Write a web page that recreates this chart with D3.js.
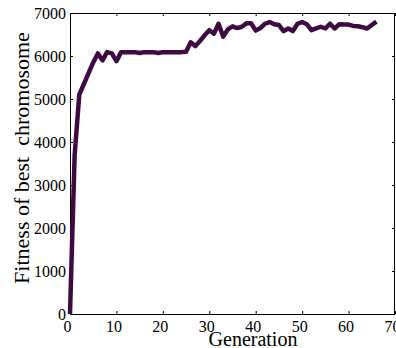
<!DOCTYPE html>
<html>
<head>
<meta charset="utf-8">
<script src="https://cdn.jsdelivr.net/npm/d3@7"></script>
<style>
  body { margin: 0; background: #fff; }
  text { font-family: "Liberation Serif", "Times New Roman", serif; fill: #000; }
</style>
</head>
<body>
<div id="chart"></div>
<script>
// Best fitness per generation
const generations = d3.range(0, 67);
const fitness = [
  0, 3700, 5100, 5350, 5600, 5850, 6060, 5900, 6090, 6060,
  5880, 6090, 6090, 6090, 6090, 6070, 6090, 6090, 6090, 6070,
  6090, 6090, 6090, 6090, 6090, 6100, 6320, 6230, 6350, 6480,
  6600, 6520, 6750, 6450, 6620, 6690, 6650, 6680, 6760, 6760,
  6590, 6650, 6750, 6790, 6740, 6720, 6580, 6640, 6580, 6750,
  6790, 6740, 6600, 6640, 6680, 6640, 6750, 6640, 6740, 6730,
  6730, 6700, 6690, 6670, 6640, 6720, 6800
];
const xTicks = [0, 10, 20, 30, 40, 50, 60, 70];
const yTicks = [0, 1000, 2000, 3000, 4000, 5000, 6000, 7000];

const W = 396, H = 348;
const margin = { top: 13, right: 1, bottom: 34, left: 70 };

const svg = d3.select('#chart')
  .append('svg')
  .attr('width', W)
  .attr('height', H);

const x = d3.scaleLinear()
  .domain([0, 70])
  .range([margin.left, W - margin.right]);

const y = d3.scaleLinear()
  .domain([0, 7000])
  .range([H - margin.bottom, margin.top]);

// bottom axis with labels, ticks pointing inward
const xAxis = svg.append('g')
  .attr('transform', `translate(0,${y(0)})`)
  .call(d3.axisBottom(x).tickValues(xTicks).tickFormat(d3.format('d'))
    .tickSizeInner(-3).tickSizeOuter(0).tickPadding(7));
xAxis.selectAll('text').style('font-size', '16px').attr('dx', '-3');

// left axis
const yAxis = svg.append('g')
  .attr('transform', `translate(${x(0)},0)`)
  .call(d3.axisLeft(y).tickValues(yTicks).tickFormat(d3.format('d'))
    .tickSizeInner(-3).tickSizeOuter(0).tickPadding(4));
yAxis.selectAll('text').style('font-size', '16px');

// top and right: ticks only
svg.append('g')
  .attr('transform', `translate(0,${y(7000)})`)
  .call(d3.axisTop(x).tickValues(xTicks).tickSizeInner(-3).tickSizeOuter(0).tickFormat(''));
svg.append('g')
  .attr('transform', `translate(${x(70)},0)`)
  .call(d3.axisRight(y).tickValues(yTicks).tickSizeInner(-3).tickSizeOuter(0).tickFormat(''));

svg.selectAll('.domain').remove();

// box
svg.append('rect')
  .attr('x', x(0) + 0.5)
  .attr('y', y(7000) + 0.5)
  .attr('width', x(70) - x(0) - 1)
  .attr('height', y(0) - y(7000))
  .attr('fill', 'none')
  .attr('stroke', '#000')
  .attr('stroke-width', 1);

// fitness line
const line = d3.line()
  .x((d, i) => x(generations[i]))
  .y(d => y(d));

svg.append('path')
  .datum(fitness)
  .attr('fill', 'none')
  .attr('stroke', '#3f0a44')
  .attr('stroke-width', 4.5)
  .attr('stroke-linejoin', 'round')
  .attr('d', line);

// axis titles
svg.append('text')
  .attr('x', 253)
  .attr('y', 346)
  .attr('text-anchor', 'middle')
  .style('font-size', '20px')
  .text('Generation');

svg.append('text')
  .attr('transform', 'translate(29,158) rotate(-90)')
  .attr('text-anchor', 'middle')
  .style('font-size', '22px')
  .style('white-space', 'pre')
  .text('Fitness of best  chromosome');
</script>
</body>
</html>
